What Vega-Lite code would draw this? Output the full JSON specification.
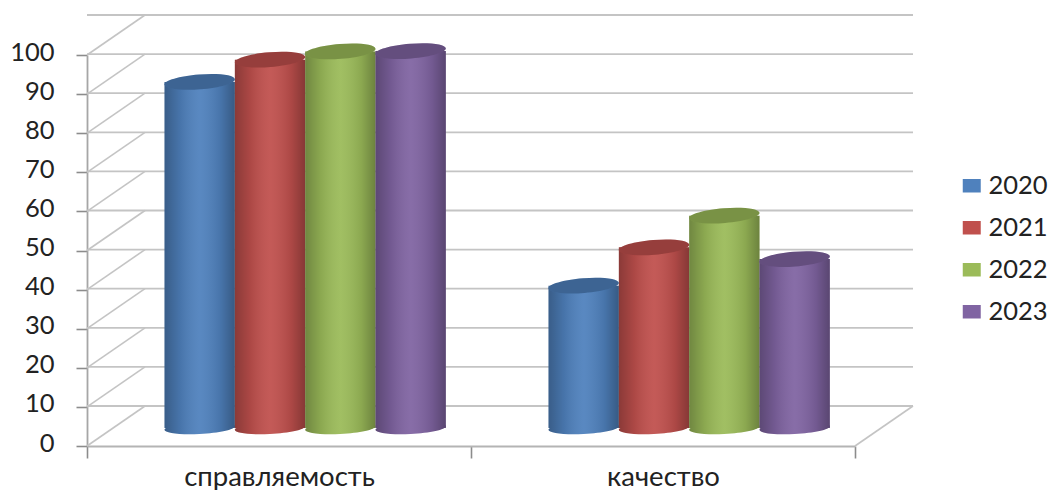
{
  "$schema": "https://vega.github.io/schema/vega-lite/v6.json",
  "width": 768,
  "height": 391,
  "autosize": "none",
  "padding": {"left": 87, "top": 55, "right": 197, "bottom": 44},
  "background": "white",
  "config": {"view": {"stroke": null}, "font": "Lato",
    "axisX": {"labelLimit": 400, "labelFont": "Lato", "labelFontSize": 27.5, "labelColor": "#222222", "labelPadding": 5, "labelAngle": 0, "tickBand": "extent", "grid": false, "title": null, "domainColor": "#b4b4b4", "domainWidth": 1.8, "tickColor": "#8c8c8c", "tickWidth": 1.6, "tickSize": 12},
    "axisY": {"tickCount": 11, "labelOverlap": false, "labelFont": "Lato", "labelFontSize": 25.5, "labelColor": "#222222", "labelPadding": 22, "labelOffset": -3, "grid": false, "title": null, "domainColor": "#a6a6a6", "domainWidth": 1.8, "tickColor": "#8c8c8c", "tickWidth": 1.6, "tickSize": 11}
  },
  "datasets": {
    "bars": [
      {"group": "справляемость", "year": "2020", "value": 88.5},
      {"group": "справляемость", "year": "2021", "value": 94.2},
      {"group": "справляемость", "year": "2022", "value": 96.3},
      {"group": "справляемость", "year": "2023", "value": 96.4},
      {"group": "качество", "year": "2020", "value": 36.4},
      {"group": "качество", "year": "2021", "value": 46.2},
      {"group": "качество", "year": "2022", "value": 54.3},
      {"group": "качество", "year": "2023", "value": 43.2}
    ],
    "ticks": [
      {"tick": 0}, {"tick": 10}, {"tick": 20}, {"tick": 30}, {"tick": 40}, {"tick": 50},
      {"tick": 60}, {"tick": 70}, {"tick": 80}, {"tick": 90}, {"tick": 100}
    ]
  },
  "layer": [
    {
      "data": {"name": "ticks"},
      "mark": {"type": "rule", "stroke": "#c4c4c4", "strokeWidth": 1.8, "xOffset": 58, "x2Offset": 58, "yOffset": -40},
      "encoding": {
        "y": {"field": "tick", "type": "quantitative", "title": null, "scale": {"domain": [0, 100], "nice": false},
          "axis": {"values": [0,10,20,30,40,50,60,70,80,90,100], "tickCount": 11, "title": null, "labelOverlap": false}}
      }
    },
    {
      "data": {"name": "ticks"},
      "mark": {"type": "rule", "stroke": "#c4c4c4", "strokeWidth": 1.6, "x2Offset": -134, "y2Offset": -40},
      "encoding": {
        "x": {"datum": "справляемость", "bandPosition": 0, "type": "nominal", "title": null,
          "scale": {"domain": ["справляемость", "качество"], "paddingInner": 0, "paddingOuter": 0}},
        "x2": {"datum": "справляемость"},
        "y": {"field": "tick", "type": "quantitative", "title": null},
        "y2": {"field": "tick"}
      }
    },
    {
      "data": {"values": [{"tick": 0}]},
      "mark": {"type": "rule", "stroke": "#c4c4c4", "strokeWidth": 1.6, "x2Offset": 250, "y2Offset": -40},
      "encoding": {
        "x": {"datum": "качество", "bandPosition": 1, "type": "nominal", "title": null},
        "x2": {"datum": "качество"},
        "y": {"field": "tick", "type": "quantitative", "title": null},
        "y2": {"field": "tick"}
      }
    },
    {
      "data": {"name": "bars"},
      "encoding": {
        "x": {"field": "group", "type": "nominal", "sort": ["справляемость", "качество"], "title": null},
        "xOffset": {"field": "year", "type": "nominal", "scale": {"paddingInner": 0, "paddingOuter": 0.73, "align": 0.755}}
      },
      "layer": [
        {
          "mark": {"type": "point", "filled": true, "opacity": 1, "size": 4950, "yOffset": -18,
            "shape": "M -1 0.05 A 1 0.17 -3 1 1 1 -0.05 A 1 0.17 -3 1 1 -1 0.05 Z"},
          "encoding": {
            "y": {"datum": 0, "type": "quantitative", "title": null},
            "color": {"field": "year", "type": "nominal",
              "scale": {"domain": ["2020", "2021", "2022", "2023"], "range": ["#4F81BD", "#C0504D", "#9BBB59", "#8064A2"]},
              "legend": {"title": null, "orient": "none", "legendX": 872, "legendY": 118, "padding": 0,
                "symbolType": "M -1 -0.75 H 1 V 0.75 H -1 Z", "symbolSize": 324, "symbolStrokeWidth": 0,
                "labelFontSize": 25.5, "labelColor": "#222222", "labelOffset": 4, "labelFont": "Lato", "rowPadding": 15}}
          }
        },
        {
          "mark": {"type": "point", "filled": true, "opacity": 1, "size": 4950, "yOffset": -18,
            "shape": "M -1 0.05 A 1 0.17 -3 1 1 1 -0.05 A 1 0.17 -3 1 1 -1 0.05 Z",
            "fill": {"gradient": "linear", "x1": 0, "x2": 1, "y1": 0, "y2": 0, "stops": [
              {"offset": 0, "color": "rgba(0,0,0,0.28)"}, {"offset": 0.22, "color": "rgba(0,0,0,0.1)"},
              {"offset": 0.5, "color": "rgba(255,255,255,0.06)"}, {"offset": 0.8, "color": "rgba(0,0,0,0.1)"},
              {"offset": 1, "color": "rgba(0,0,0,0.3)"}]}},
          "encoding": {"y": {"datum": 0, "type": "quantitative", "title": null}}
        },
        {
          "mark": {"type": "bar", "yOffset": -18, "y2Offset": -18},
          "encoding": {
            "y": {"field": "value", "type": "quantitative", "stack": null, "title": null},
            "y2": {"datum": 0},
            "color": {"field": "year", "type": "nominal"}
          }
        },
        {
          "mark": {"type": "bar", "yOffset": -18, "y2Offset": -18,
            "fill": {"gradient": "linear", "x1": 0, "x2": 1, "y1": 0, "y2": 0, "stops": [
              {"offset": 0, "color": "rgba(0,0,0,0.28)"}, {"offset": 0.22, "color": "rgba(0,0,0,0.1)"},
              {"offset": 0.5, "color": "rgba(255,255,255,0.06)"}, {"offset": 0.8, "color": "rgba(0,0,0,0.1)"},
              {"offset": 1, "color": "rgba(0,0,0,0.3)"}]}},
          "encoding": {
            "y": {"field": "value", "type": "quantitative", "stack": null, "title": null},
            "y2": {"datum": 0}
          }
        },
        {
          "mark": {"type": "point", "filled": true, "opacity": 1, "size": 4950, "yOffset": -18,
            "shape": "M -1 0.08 A 1 0.21 -4.5 1 1 1 -0.08 A 1 0.21 -4.5 1 1 -1 0.08 Z"},
          "encoding": {
            "y": {"field": "value", "type": "quantitative", "title": null},
            "color": {"field": "year", "type": "nominal"}
          }
        },
        {
          "mark": {"type": "point", "filled": true, "opacity": 1, "size": 4950, "yOffset": -18, "fill": "rgba(0,0,0,0.22)",
            "shape": "M -1 0.08 A 1 0.21 -4.5 1 1 1 -0.08 A 1 0.21 -4.5 1 1 -1 0.08 Z"},
          "encoding": {"y": {"field": "value", "type": "quantitative", "title": null}}
        }
      ]
    }
  ]
}
